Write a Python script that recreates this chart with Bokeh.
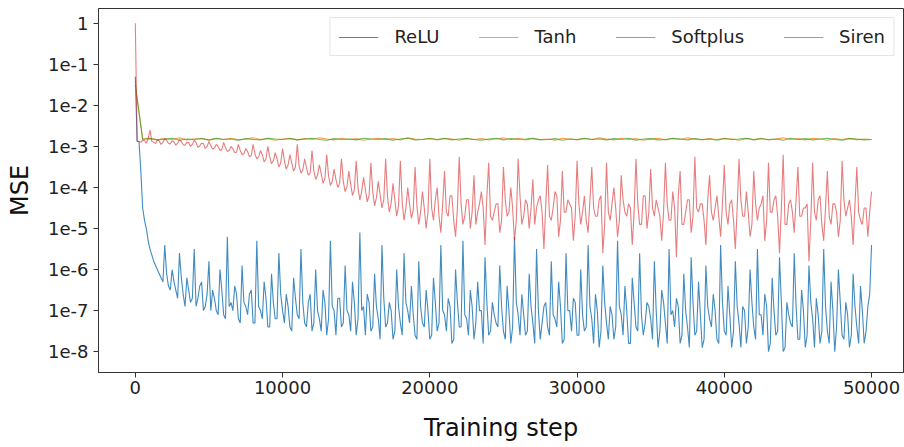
from bokeh.plotting import figure
from bokeh.models import Range1d, FixedTicker, CustomJSTickFormatter, BasicTickFormatter
from bokeh.embed import file_html
from bokeh.resources import INLINE

# ---- data (log10 of MSE) ----
steps_main = list(range(0, 50001, 250))      # 0, 250, ..., 50000
steps_mid = list(range(125, 50000, 250))     # 125, 375, ..., 49875
steps_coarse = list(range(0, 50001, 500))

relu_log_main = [-1.3,
    -2.88, -4.5, -5.0, -5.5, -5.8, -6.0, -6.2, -5.4, -6.4, -6.0, -6.5, -5.6, -6.6, -6.2, -6.8, -5.5, -6.7, -6.3, -6.9, -5.8,
    -6.5, -7.0, -6.0, -7.1, -5.2, -6.8, -6.4, -7.2, -5.9, -6.9, -6.6, -7.3, -5.3, -7.0, -6.3, -7.4, -6.1, -7.2, -5.6, -7.0,
    -6.6, -7.4, -6.2, -7.1, -5.5, -7.3, -6.8, -7.5, -6.0, -7.2, -6.5, -7.6, -5.3, -7.0, -6.7, -7.4, -5.9, -7.1, -6.3, -7.6,
    -5.1, -6.9, -6.6, -7.5, -6.1, -7.2, -5.4, -7.4, -6.8, -7.7, -6.0, -7.3, -5.6, -7.0, -6.4, -7.6, -5.8, -7.3, -6.5, -7.7,
    -6.2, -7.5, -5.4, -7.1, -6.7, -7.8, -6.0, -7.4, -5.3, -7.2, -6.5, -7.7, -6.3, -7.0, -5.7, -7.6, -6.8, -7.3, -5.9, -7.5,
    -6.4, -7.8, -5.2, -7.1, -6.6, -7.6, -6.1, -7.3, -5.5, -7.7, -6.9, -7.4, -5.8, -7.2, -6.3, -7.8, -5.6, -7.0, -6.7, -7.6,
    -6.0, -7.5, -5.4, -7.2, -6.6, -7.9, -5.9, -7.3, -6.9, -7.7, -5.3, -7.1, -6.4, -7.8, -6.2, -7.4, -5.6, -7.6, -6.8, -7.2,
    -5.8, -7.9, -6.5, -7.3, -5.5, -7.0, -6.7, -7.8, -6.1, -7.4, -5.7, -7.6, -6.3, -7.9, -5.9, -7.2, -6.6, -7.7, -5.4, -7.5,
    -6.4, -7.9, -5.8, -7.3, -6.9, -7.8, -6.0, -7.4, -5.5, -7.1, -6.6, -8.0, -6.2, -7.6, -5.7, -8.0, -6.8, -7.3, -5.6, -7.7,
    -6.5, -7.9, -5.9, -7.2, -6.7, -7.8, -5.5, -7.5, -6.3, -8.0, -6.0, -7.6, -6.8, -7.9, -6.1, -7.4, -6.4, -7.8, -6.9, -5.4,
]
relu_log_mid = [
    -2.88, -3.6, -4.8, -5.3, -5.65, -5.9, -6.1, -6.3, -6.1, -6.5, -6.3, -6.7, -6.2, -6.9, -6.5, -6.7, -6.9, -6.4, -7.0, -6.6,
    -7.0, -6.7, -7.1, -6.5, -7.2, -6.9, -7.0, -6.6, -7.3, -6.8, -7.1, -6.5, -7.3, -6.9, -7.2, -6.7, -7.4, -6.8, -7.2, -6.6,
    -7.3, -6.9, -7.5, -6.7, -7.2, -6.8, -7.4, -6.6, -7.3, -7.0, -7.5, -6.8, -7.2, -6.9, -7.6, -6.7, -7.3, -7.0, -7.5, -6.8,
    -7.2, -7.0, -7.6, -6.8, -7.4, -6.9, -7.7, -6.7, -7.3, -7.0, -7.5, -6.9, -7.6, -6.8, -7.3, -7.1, -7.7, -6.9, -7.4, -7.0,
    -7.6, -6.8, -7.3, -7.0, -7.5, -6.9, -7.7, -6.8, -7.4, -7.1, -7.6, -6.9, -7.3, -7.0, -7.8, -6.8, -7.5, -7.1, -7.4, -6.9,
    -7.7, -7.0, -7.4, -6.8, -7.6, -7.1, -7.5, -6.9, -7.8, -7.0, -7.3, -6.8, -7.6, -7.1, -7.4, -6.9, -7.7, -7.0, -7.5, -6.8,
    -7.6, -7.1, -7.4, -6.9, -7.8, -7.0, -7.5, -6.8, -7.7, -7.1, -7.4, -6.9, -7.6, -7.0, -7.8, -6.8, -7.5, -7.1, -7.3, -6.9,
    -7.7, -7.0, -7.5, -6.8, -7.8, -7.1, -7.4, -6.9, -7.6, -7.0, -7.9, -6.8, -7.5, -7.1, -7.7, -6.9, -7.4, -7.0, -7.8, -6.8,
    -7.6, -7.1, -7.5, -6.9, -7.9, -7.0, -7.4, -6.8, -7.7, -7.1, -7.6, -6.9, -7.8, -7.0, -7.5, -6.8, -7.9, -7.1, -7.4, -6.9,
    -7.7, -7.0, -7.6, -6.8, -7.9, -7.1, -7.5, -6.9, -7.8, -7.0, -7.4, -6.8, -7.7, -7.1, -7.6, -6.9, -7.8, -7.0, -7.5, -6.6,
]

siren_log_main = [0.0,
    -2.88, -2.85, -2.92, -2.6, -2.9, -2.84, -2.95, -2.82, -2.93, -2.86, -2.97, -2.83, -2.96, -2.9, -3.0, -2.85, -3.02, -2.92, -3.05, -2.88,
    -3.06, -2.95, -3.1, -2.9, -3.12, -3.0, -3.15, -2.95, -3.2, -3.05, -3.25, -2.95, -3.3, -3.1, -3.38, -3.0, -3.42, -3.15, -3.5, -3.05,
    -3.55, -3.2, -3.6, -2.95, -3.65, -3.3, -3.7, -3.1, -3.8, -3.45, -3.9, -3.2, -3.95, -3.55, -4.0, -3.3, -4.1, -3.6, -4.2, -3.35,
    -4.3, -3.75, -4.35, -3.4, -4.45, -3.85, -4.5, -3.3, -4.6, -3.9, -4.7, -3.35, -4.8, -4.0, -4.75, -3.5, -4.9, -4.1, -5.0, -3.3,
    -4.8, -4.0, -5.1, -3.6, -4.7, -4.2, -5.2, -3.25, -4.9, -4.3, -5.0, -3.7, -4.6, -4.1, -5.4, -3.4, -4.8, -4.4, -5.1, -3.5,
    -4.7, -4.0, -5.3, -3.3, -4.9, -4.3, -5.0, -3.8, -4.5, -4.2, -5.5, -3.45, -4.8, -4.1, -5.2, -3.6, -4.6, -4.4, -5.3, -3.35,
    -4.9, -4.2, -5.1, -3.5, -4.7, -4.3, -5.6, -3.4, -4.8, -4.0, -5.2, -3.7, -4.6, -4.4, -5.4, -3.3, -4.9, -4.2, -5.0, -3.55,
    -4.7, -4.5, -5.3, -3.4, -4.8, -4.1, -5.7, -3.6, -4.9, -4.3, -5.1, -3.25, -4.6, -4.4, -5.4, -3.7, -4.8, -4.2, -5.2, -3.45,
    -4.9, -4.3, -5.5, -3.3, -4.7, -4.1, -5.2, -3.6, -4.8, -4.4, -5.3, -3.4, -4.6, -4.2, -5.6, -3.2, -4.9, -4.3, -5.1, -3.5,
    -4.7, -4.5, -5.8, -3.4, -4.8, -4.2, -5.3, -3.6, -4.9, -4.4, -5.2, -3.35, -4.7, -4.3, -5.4, -3.5, -4.8, -4.5, -5.2, -4.1,
]
siren_log_mid = [
    -2.87, -2.9, -2.86, -2.8, -2.88, -2.93, -2.87, -2.9, -2.85, -2.94, -2.89, -2.92, -2.88, -2.97, -2.91, -2.95, -2.9, -2.99, -2.93, -3.0,
    -2.98, -3.04, -3.0, -3.08, -3.03, -3.1, -3.06, -3.14, -3.1, -3.18, -3.12, -3.22, -3.18, -3.26, -3.2, -3.3, -3.25, -3.35, -3.3, -3.4,
    -3.35, -3.45, -3.4, -3.5, -3.48, -3.58, -3.52, -3.65, -3.6, -3.7, -3.66, -3.78, -3.72, -3.85, -3.8, -3.9, -3.85, -3.98, -3.92, -4.05,
    -4.0, -4.1, -4.05, -4.2, -4.1, -4.25, -4.18, -4.3, -4.22, -4.38, -4.3, -4.45, -4.35, -4.5, -4.4, -4.55, -4.45, -4.6, -4.5, -4.6,
    -4.5, -4.3, -4.7, -4.4, -4.6, -4.2, -4.8, -4.5, -4.4, -4.7, -4.3, -4.6, -4.9, -4.4, -4.5, -4.2, -4.7, -4.6, -4.4, -4.8,
    -4.3, -4.6, -4.5, -4.8, -4.2, -4.7, -4.4, -4.5, -4.9, -4.3, -4.6, -4.4, -4.7, -4.5, -4.2, -4.8, -4.6, -4.3, -4.5, -4.7,
    -4.4, -4.6, -4.8, -4.3, -4.5, -4.7, -4.2, -4.9, -4.6, -4.4, -4.5, -4.8, -4.3, -4.7, -4.5, -4.6, -4.4, -4.9, -4.2, -4.6,
    -4.5, -4.3, -4.7, -4.6, -4.4, -4.8, -4.5, -4.2, -4.9, -4.6, -4.3, -4.7, -4.5, -4.4, -4.8, -4.3, -4.6, -4.5, -4.7, -4.4,
    -4.6, -4.4, -4.8, -4.5, -4.3, -4.7, -4.6, -4.9, -4.4, -4.5, -4.2, -4.8, -4.6, -4.3, -4.7, -4.5, -4.9, -4.4, -4.6, -4.3,
    -4.7, -4.5, -4.4, -4.8, -4.6, -4.3, -4.9, -4.5, -4.7, -4.4, -4.6, -4.8, -4.3, -4.5, -4.7, -4.4, -4.6, -4.9, -4.5, -4.6,
]

tanh_log_mse = [-1.5,
    -2.82, -2.80, -2.84, -2.81, -2.83, -2.79, -2.84, -2.82, -2.80, -2.85, -2.81, -2.83, -2.80, -2.84, -2.82, -2.79, -2.83, -2.81, -2.85, -2.82,
    -2.80, -2.84, -2.81, -2.83, -2.79, -2.82, -2.84, -2.80, -2.83, -2.81, -2.85, -2.82, -2.80, -2.83, -2.81, -2.84, -2.79, -2.82, -2.83, -2.80,
    -2.84, -2.81, -2.82, -2.85, -2.80, -2.83, -2.81, -2.84, -2.82, -2.79, -2.83, -2.80, -2.84, -2.81, -2.83, -2.82, -2.85, -2.80, -2.82, -2.84,
    -2.81, -2.83, -2.79, -2.82, -2.84, -2.80, -2.83, -2.81, -2.85, -2.82, -2.80, -2.84, -2.81, -2.83, -2.79, -2.82, -2.84, -2.81, -2.83, -2.80,
    -2.82, -2.85, -2.81, -2.83, -2.80, -2.84, -2.82, -2.79, -2.83, -2.81, -2.84, -2.80, -2.82, -2.85, -2.81, -2.83, -2.80, -2.84, -2.82, -2.83,
]

softplus_log_mse = [-1.5,
    -2.83, -2.81, -2.84, -2.82, -2.80, -2.85, -2.82, -2.83, -2.81, -2.84, -2.80, -2.83, -2.82, -2.85, -2.81, -2.83, -2.84, -2.80, -2.82, -2.83,
    -2.81, -2.84, -2.82, -2.80, -2.83, -2.85, -2.81, -2.83, -2.82, -2.84, -2.80, -2.82, -2.83, -2.81, -2.85, -2.82, -2.80, -2.84, -2.83, -2.81,
    -2.83, -2.80, -2.84, -2.82, -2.81, -2.83, -2.85, -2.82, -2.80, -2.84, -2.81, -2.83, -2.82, -2.80, -2.84, -2.83, -2.81, -2.85, -2.82, -2.83,
    -2.80, -2.83, -2.82, -2.84, -2.81, -2.83, -2.80, -2.85, -2.82, -2.81, -2.84, -2.83, -2.80, -2.82, -2.84, -2.81, -2.83, -2.82, -2.85, -2.81,
    -2.83, -2.82, -2.80, -2.84, -2.81, -2.83, -2.82, -2.85, -2.80, -2.83, -2.81, -2.84, -2.82, -2.80, -2.83, -2.85, -2.81, -2.82, -2.84, -2.83,
]

series_names = ["ReLU", "Tanh", "Softplus", "Siren"]
x_ticks = [0, 10000, 20000, 30000, 40000, 50000]
y_ticks = [1e-8, 1e-7, 1e-6, 1e-5, 1e-4, 1e-3, 1e-2, 1e-1, 1.0]


def merged(main_vals, mid_vals):
    pts = sorted(list(zip(steps_main, main_vals)) + list(zip(steps_mid, mid_vals)))
    return [s for s, _ in pts], [10 ** v for _, v in pts]


relu_x, relu = merged(relu_log_main, relu_log_mid)
siren_x, siren = merged(siren_log_main, siren_log_mid)
tanh = [10 ** v for v in tanh_log_mse]
softplus = [10 ** v for v in softplus_log_mse]

# ---- figure ----
p = figure(width=904, height=447, y_axis_type="log",
           x_range=Range1d(-2500, 52170), y_range=Range1d(3.1e-9, 2.3),
           output_backend="svg", toolbar_location=None,
           min_border_left=98, min_border_right=1, min_border_top=8, min_border_bottom=75)

colors = ["#1f77b4", "#ff7f0e", "#2ca02c", "#d62728"]
p.line(relu_x, relu, line_color=colors[0], line_width=1.1, line_alpha=0.85, legend_label=series_names[0])
p.line(steps_coarse, tanh, line_color=colors[1], line_width=1.1, line_alpha=0.75, legend_label=series_names[1])
p.line(steps_coarse, softplus, line_color=colors[2], line_width=1.1, line_alpha=0.7, legend_label=series_names[2])
p.line(siren_x, siren, line_color=colors[3], line_width=1.1, line_alpha=0.6, legend_label=series_names[3])

p.grid.visible = False
p.outline_line_color = "#333333"
p.background_fill_color = "white"

p.xaxis.ticker = FixedTicker(ticks=x_ticks)
p.xaxis.formatter = BasicTickFormatter(use_scientific=False)
p.yaxis.ticker = FixedTicker(ticks=y_ticks)
p.yaxis.formatter = CustomJSTickFormatter(code="""
const e = Math.round(Math.log10(tick));
return e === 0 ? "1" : "1e" + e;
""")

for ax in (p.xaxis, p.yaxis):
    ax.axis_line_color = "#333333"
    ax.major_tick_line_color = "#333333"
    ax.major_tick_out = 5
    ax.major_tick_in = 0
    ax.minor_tick_line_color = None
    ax.major_label_text_font = "DejaVu Sans"
    ax.major_label_text_font_size = "18px"
    ax.major_label_text_color = "#222222"
    ax.axis_label_text_font = "DejaVu Sans"
    ax.axis_label_text_font_size = "24px"
    ax.axis_label_text_font_style = "normal"
    ax.axis_label_text_color = "#111111"

p.xaxis.major_label_standoff = 3
p.yaxis.major_label_standoff = 5
p.xaxis.axis_label = "Training step"
p.yaxis.axis_label = "MSE"
p.xaxis.axis_label_standoff = 17
p.yaxis.axis_label_standoff = 11

lg = p.legend[0]
lg.orientation = "horizontal"
lg.location = "top_right"
lg.margin = 9
lg.padding = 8
lg.spacing = 39
lg.glyph_width = 40
lg.glyph_height = 18
lg.label_standoff = 16
lg.label_text_font = "DejaVu Sans"
lg.label_text_font_size = "18px"
lg.label_text_color = "#222222"
lg.border_line_color = "#cccccc"
lg.background_fill_alpha = 0.85

open("out.html", "w").write(file_html(p, INLINE))
